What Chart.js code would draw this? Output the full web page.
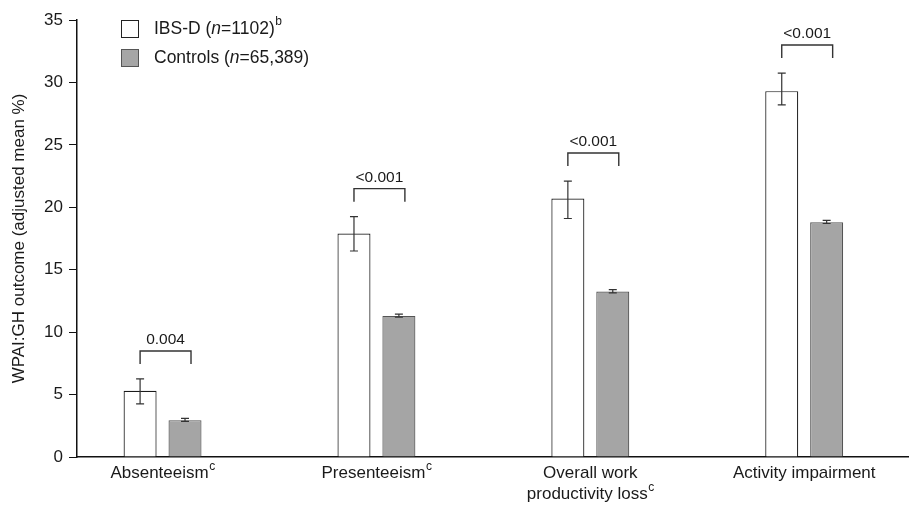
<!DOCTYPE html>
<html>
<head>
<meta charset="utf-8">
<script src="https://cdn.jsdelivr.net/npm/chart.js@4"></script>
<style>
  html, body { margin: 0; padding: 0; background: #fff; }
  #wrap { width: 909px; height: 505px; position: relative; }
</style>
</head>
<body>
<div id="wrap"><canvas id="c"></canvas></div>
<script>
// ---- data ----
const categories = [['Absenteeism'], ['Presenteeism'], ['Overall work', 'productivity loss'], ['Activity impairment']];
const categorySup = ['c', 'c', 'c', ''];
const ibsValues = [5.3, 17.9, 20.7, 29.3];
const ibsLower = [4.25, 16.5, 19.1, 28.2];
const ibsUpper = [6.25, 19.25, 22.1, 30.75];
const ctrlValues = [2.95, 11.3, 13.25, 18.8];
const ctrlLower = [2.85, 11.2, 13.15, 18.7];
const ctrlUpper = [3.1, 11.45, 13.4, 18.95];
const pValues = ['0.004', '<0.001', '<0.001', '<0.001'];
const yTicks = [0, 5, 10, 15, 20, 25, 30, 35];
const seriesNames = ['IBS-D', 'Controls'];
const seriesN = ['1102', '65,389'];
const seriesSup = ['b', ''];

const FONT = '"Liberation Sans", Arial, Helvetica, sans-serif';
const TXT = '#1a1a1a';

const annotPlugin = {
  id: 'annot',
  afterDatasetsDraw(chart) {
    const ctx = chart.ctx;
    const x = chart.scales.x, y = chart.scales.y;
    const m0 = chart.getDatasetMeta(0), m1 = chart.getDatasetMeta(1);
    ctx.save();
    const drawErr = (px, lo, hi, color) => {
      const yl = y.getPixelForValue(lo), yh = y.getPixelForValue(hi);
      ctx.strokeStyle = color; ctx.lineWidth = 1.2;
      ctx.beginPath();
      ctx.moveTo(px, yl); ctx.lineTo(px, yh);
      ctx.moveTo(px - 4, yl); ctx.lineTo(px + 4, yl);
      ctx.moveTo(px - 4, yh); ctx.lineTo(px + 4, yh);
      ctx.stroke();
    };
    categories.forEach((c, i) => {
      drawErr(m0.data[i].x, ibsLower[i], ibsUpper[i], '#333');
      drawErr(m1.data[i].x, ctrlLower[i], ctrlUpper[i], '#333');
      const xl = m0.data[i].x;
      const xr = m1.data[i].x + 6;
      const top = y.getPixelForValue(ibsUpper[i]) - 28;
      ctx.strokeStyle = '#333'; ctx.lineWidth = 1.4;
      ctx.beginPath();
      ctx.moveTo(xl, top + 13); ctx.lineTo(xl, top); ctx.lineTo(xr, top); ctx.lineTo(xr, top + 13);
      ctx.stroke();
      ctx.fillStyle = TXT;
      ctx.font = '15.5px ' + FONT;
      ctx.textAlign = 'center'; ctx.textBaseline = 'middle';
      ctx.fillText(pValues[i], (xl + xr) / 2, top - 11);
    });
    categories.forEach((lines, i) => {
      const cx = x.getPixelForValue(i);
      lines.forEach((ln, k) => {
        const ly = chart.chartArea.bottom + 16 + k * 21;
        ctx.font = '17px ' + FONT;
        ctx.fillStyle = TXT;
        ctx.textBaseline = 'middle';
        const w = ctx.measureText(ln).width;
        const sup = (k === lines.length - 1) ? categorySup[i] : '';
        ctx.font = '12px ' + FONT;
        const sw = sup ? ctx.measureText(sup).width : 0;
        const sx = cx - (w + sw) / 2;
        ctx.textAlign = 'left';
        ctx.font = '17px ' + FONT;
        ctx.fillText(ln, sx, ly);
        if (sup) { ctx.font = '12px ' + FONT; ctx.fillText(sup, sx + w + 0.5, ly - 6); }
      });
    });
    const colors = [['#ffffff', '#222'], ['#a6a6a6', '#555']];
    seriesNames.forEach((name, i) => {
      const by = 20 + i * 29;
      ctx.fillStyle = colors[i][0]; ctx.strokeStyle = colors[i][1]; ctx.lineWidth = 1;
      ctx.fillRect(121.5, by + 0.5, 17, 17);
      ctx.strokeRect(121.5, by + 0.5, 17, 17);
      let tx = 154; const ty = by + 9;
      ctx.fillStyle = TXT; ctx.textAlign = 'left'; ctx.textBaseline = 'middle';
      const parts = [[name + ' (', 'normal'], ['n', 'italic'], ['=' + seriesN[i] + ')', 'normal']];
      parts.forEach(p => {
        ctx.font = (p[1] === 'italic' ? 'italic ' : '') + '17.5px ' + FONT;
        ctx.fillText(p[0], tx, ty);
        tx += ctx.measureText(p[0]).width;
      });
      if (seriesSup[i]) { ctx.font = '12px ' + FONT; ctx.fillText(seriesSup[i], tx + 0.5, ty - 7); }
    });
    ctx.restore();
  }
};

new Chart(document.getElementById('c'), {
  type: 'bar',
  data: {
    datasets: [
      {
        label: seriesNames[0],
        data: ibsValues.map((v, i) => ({ x: i, y: v })),
        backgroundColor: '#ffffff',
        borderColor: '#1a1a1a',
        borderWidth: 1.2,
        categoryPercentage: 0.42,
        barPercentage: 0.735
      },
      {
        label: seriesNames[1],
        data: ctrlValues.map((v, i) => ({ x: i, y: v })),
        backgroundColor: '#a5a5a5',
        borderColor: '#555555',
        borderWidth: 1.2,
        categoryPercentage: 0.42,
        barPercentage: 0.735
      }
    ]
  },
  options: {
    responsive: true,
    maintainAspectRatio: false,
    animation: false,
    layout: { padding: { top: 20, right: 0, bottom: 48, left: 0 } },
    plugins: { legend: { display: false }, tooltip: { enabled: false } },
    scales: {
      x: {
        type: 'linear',
        offset: false,
        min: -0.40,
        max: 3.49,
        afterBuildTicks(scale) { scale.ticks = categories.map((c, i) => ({ value: i })); },
        afterFit(scale) { scale.height = 0; },
        grid: { display: false, offset: false },
        border: { display: true, color: '#111', width: 1.5 },
        ticks: { display: false }
      },
      y: {
        min: 0,
        max: 35,
        afterBuildTicks(scale) { scale.ticks = yTicks.map(v => ({ value: v })); },
        afterFit(scale) { scale.width = 77; },
        grid: { drawOnChartArea: false, drawTicks: true, tickLength: 8, color: '#111' },
        border: { display: true, color: '#111', width: 1.5 },
        ticks: { color: TXT, font: { family: FONT, size: 17 }, padding: 6 },
        title: { display: true, text: 'WPAI:GH outcome (adjusted mean %)', color: TXT, font: { family: FONT, size: 17 }, padding: { top: 9, bottom: 0 } }
      }
    }
  },
  plugins: [annotPlugin]
});
</script>
</body>
</html>
